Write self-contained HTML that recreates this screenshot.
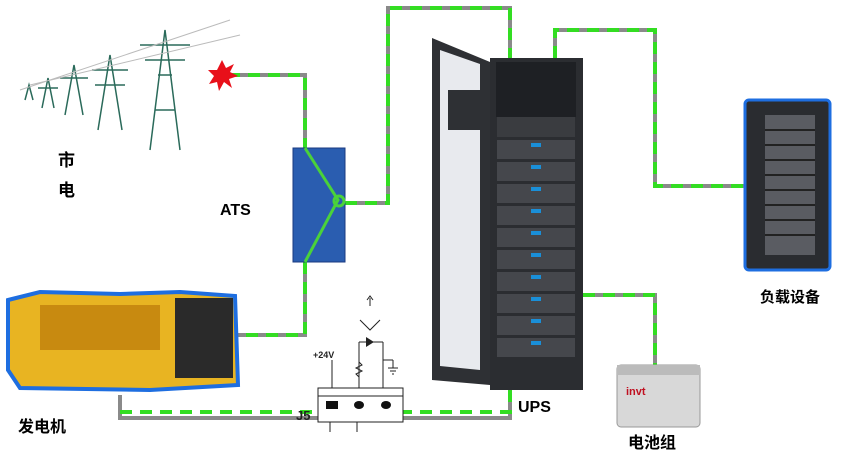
<!DOCTYPE html><html><head><meta charset="utf-8"><style>body{margin:0;background:#fff}svg{display:block}text{font-family:"Liberation Sans","Noto Sans CJK SC",sans-serif;font-weight:bold}</style></head><body>
<svg width="850" height="468" viewBox="0 0 850 468" xmlns="http://www.w3.org/2000/svg">
<g fill="none" stroke-linejoin="miter">
<g stroke="#8a8a8a" stroke-width="4">
<polyline points="228,75 305,75 305,148"/>
<polyline points="345,203 388,203 388,8 510,8 510,58"/>
<polyline points="555,58 555,30 655,30 655,186 745,186"/>
<polyline points="305,262 305,335 238,335"/>
<polyline points="583,295 655,295 655,365"/>
<polyline points="120,395 120,418 510,418 510,388"/>
</g>
<g stroke="#33dd22" stroke-width="4" stroke-dasharray="12,8">
<polyline points="228,75 305,75 305,148"/>
<polyline points="345,203 388,203 388,8 510,8 510,58"/>
<polyline points="555,58 555,30 655,30 655,186 745,186"/>
<polyline points="305,262 305,335 238,335"/>
<polyline points="583,295 655,295 655,365"/>
<polyline points="120,412 120,412 510,412 510,388"/>
</g>
</g>
<!-- towers -->
<g stroke="#2a6a5a" stroke-width="1.5" fill="none">
<path d="M150,150 L165,30 L180,150 M155,110 L175,110 M158,75 L172,75 M140,45 L190,45 M145,60 L185,60"/>
<path d="M98,130 L110,55 L122,130 M92,70 L128,70 M95,85 L125,85"/>
<path d="M65,115 L74,65 L83,115 M60,78 L88,78"/>
<path d="M42,108 L48,78 L54,108 M38,88 L58,88"/>
<path d="M25,100 L29,85 L33,100"/>
<path d="M20,90 L230,20 M30,85 L240,35" stroke="#bbb" stroke-width="1"/>
</g>
<polygon points="222,60 226,68 234,64 230,72 238,76 229,79 232,88 224,82 219,91 217,82 209,84 214,76 208,70 217,70" fill="#e8101a"/>
<!-- ATS -->
<rect x="293" y="148" width="52" height="114" fill="#2a5db0" stroke="#1a3a80"/>
<polyline points="305,148 338,200 305,262" fill="none" stroke="#4ad23a" stroke-width="3"/>
<circle cx="339" cy="201" r="5" fill="none" stroke="#4ad23a" stroke-width="3"/>
<!-- UPS -->
<polygon points="432,38 490,62 490,385 432,380" fill="#2e3034"/>
<polygon points="440,50 480,64 480,370 440,366" fill="#e8eaee"/>
<rect x="448" y="90" width="42" height="40" fill="#2e3034"/>
<rect x="490" y="58" width="93" height="332" fill="#2b2d31"/>
<rect x="496" y="62" width="80" height="55" fill="#1e2024"/>
<rect x="497" y="117" width="78" height="20" fill="#3a3c40"/>
<g fill="#45474c">
<rect x="497" y="140" width="78" height="19"/><rect x="497" y="162" width="78" height="19"/><rect x="497" y="184" width="78" height="19"/><rect x="497" y="206" width="78" height="19"/><rect x="497" y="228" width="78" height="19"/><rect x="497" y="250" width="78" height="19"/><rect x="497" y="272" width="78" height="19"/><rect x="497" y="294" width="78" height="19"/><rect x="497" y="316" width="78" height="19"/><rect x="497" y="338" width="78" height="19"/>
</g>
<g fill="#1a8fd8">
<rect x="531" y="143" width="10" height="4"/><rect x="531" y="165" width="10" height="4"/><rect x="531" y="187" width="10" height="4"/><rect x="531" y="209" width="10" height="4"/><rect x="531" y="231" width="10" height="4"/><rect x="531" y="253" width="10" height="4"/><rect x="531" y="275" width="10" height="4"/><rect x="531" y="297" width="10" height="4"/><rect x="531" y="319" width="10" height="4"/><rect x="531" y="341" width="10" height="4"/>
</g>
<!-- Server -->
<rect x="745" y="100" width="85" height="170" rx="4" fill="#2a2c30" stroke="#1e6ee0" stroke-width="3"/>
<g fill="#5a5c62"><rect x="765" y="115" width="50" height="140"/></g>
<g stroke="#222" stroke-width="2"><path d="M765,130H815M765,145H815M765,160H815M765,175H815M765,190H815M765,205H815M765,220H815M765,235H815"/></g>
<!-- Generator -->
<path d="M8,300 L40,292 L120,294 L180,292 L235,296 L238,385 L150,390 L20,388 L8,370 Z" fill="#e8b422" stroke="#1e6ee0" stroke-width="4"/>
<rect x="175" y="298" width="58" height="80" fill="#2a2a2a"/>
<rect x="40" y="305" width="120" height="45" fill="#c88a10"/>
<!-- Battery -->
<rect x="617" y="365" width="83" height="62" rx="4" fill="#d8d8d8" stroke="#999"/>
<rect x="617" y="365" width="83" height="10" fill="#bbb"/>
<text x="626" y="395" font-size="11" fill="#c01020">invt</text>
<!-- Relay -->
<g stroke="#222" stroke-width="1" fill="none">
<rect x="318" y="388" width="85" height="34" fill="#fff"/><line x1="318" y1="396" x2="403" y2="396"/>
<line x1="332" y1="388" x2="332" y2="360"/><line x1="359" y1="388" x2="359" y2="342"/><line x1="383" y1="388" x2="383" y2="342"/>
<line x1="359" y1="342" x2="383" y2="342"/><line x1="383" y1="360" x2="393" y2="360"/><line x1="393" y1="360" x2="393" y2="368"/>
<path d="M388,368H398M390,371H396M392,374H394"/>
<path d="M359,362 l3,3 -6,3 6,3 -6,3 3,3"/>
<path d="M360,320 L370,330 L380,320 M370,298 V306 M367,300 L370,296 L373,300"/>
<line x1="330" y1="422" x2="330" y2="432"/><line x1="357" y1="422" x2="357" y2="432"/>
</g>
<polygon points="366,337 374,342 366,347" fill="#222"/>
<rect x="326" y="401" width="12" height="8" fill="#111"/><ellipse cx="359" cy="405" rx="5" ry="4" fill="#111"/><ellipse cx="386" cy="405" rx="5" ry="4" fill="#111"/>
<text x="313" y="358" font-size="9" font-weight="normal" fill="#222">+24V</text>
<text x="296" y="420" font-size="13" font-weight="normal" fill="#222">J5</text>
<!-- labels -->
<text x="58" y="166" font-size="17">市</text>
<text x="58" y="196" font-size="17">电</text>
<text x="220" y="215" font-size="16">ATS</text>
<text x="18" y="432" font-size="16">发电机</text>
<text x="518" y="412" font-size="16">UPS</text>
<text x="628" y="448" font-size="16">电池组</text>
<text x="760" y="302" font-size="15">负载设备</text>
</svg></body></html>
